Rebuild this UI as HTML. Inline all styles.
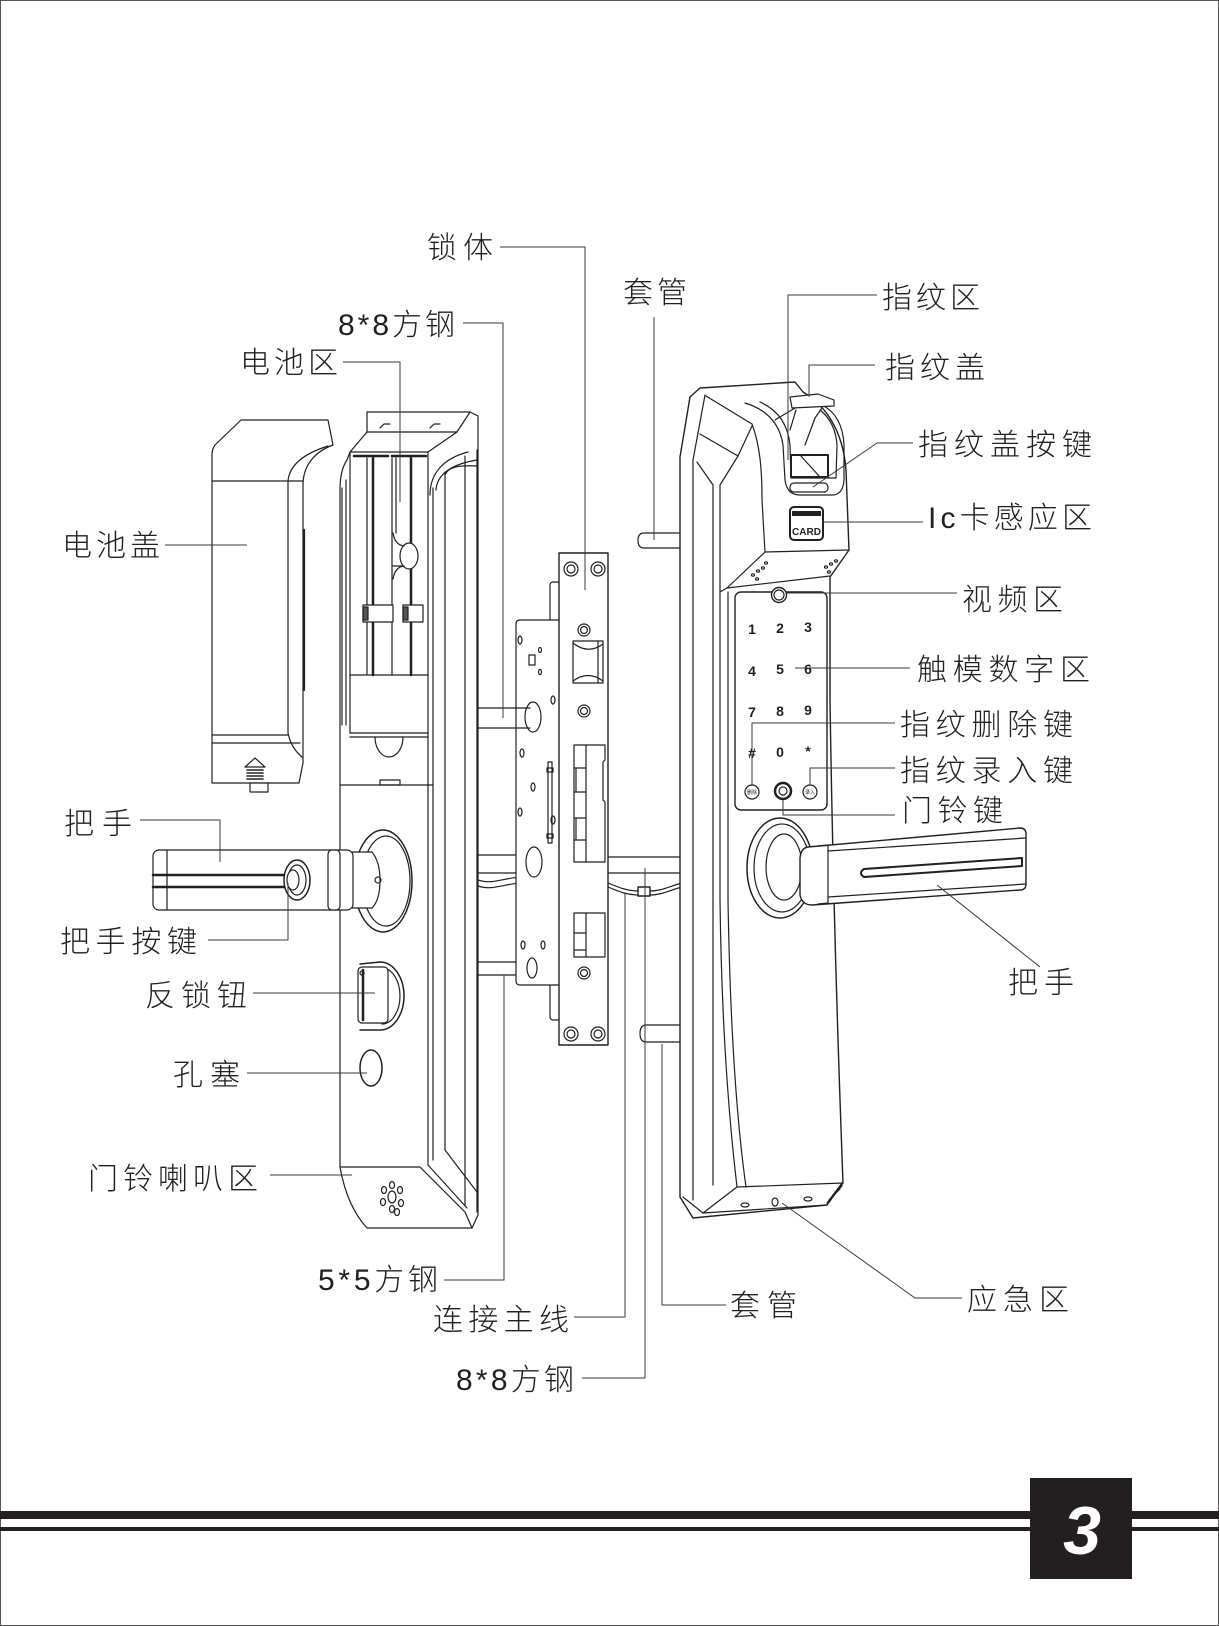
<!DOCTYPE html>
<html><head><meta charset="utf-8">
<style>
html,body{margin:0;padding:0;background:#fff;}
svg{display:block;}
text{font-family:"Liberation Sans","Noto Sans CJK SC",sans-serif;fill:#231f20;}
.lbl text{font-weight:300;}
</style></head><body>
<svg width="1219" height="1626" viewBox="0 0 1219 1626" xmlns="http://www.w3.org/2000/svg">
<rect x="0.5" y="0.5" width="1218" height="1625" fill="#fff" stroke="#555" stroke-width="1"/>

<g fill="none" stroke="#231f20" stroke-width="1.2" stroke-linejoin="round" stroke-linecap="round">

<!-- ===== Battery cover ===== -->
<path d="M215,445 L241,420 L328,420 L333,445 C314,452 303,466 303,485 L303,763 L299,783 L212,783 L212,455 Q212,449 215,445 Z" fill="#fff"/>
<line x1="212" y1="481" x2="303" y2="481"/>
<path d="M288,481 Q290,458 328,446"/>
<path d="M288,481 L288,733 Q291,748 302,757"/>
<line x1="212" y1="735" x2="288" y2="735"/>
<line x1="212" y1="743" x2="300" y2="743"/>
<line x1="304" y1="530" x2="304" y2="690" stroke-width="2.2"/>
<path d="M245,767 L255,758 L265,767 Z"/>
<path d="M247,770 H263 M247,773 H263 M247,776 H263 M247,779 H263" stroke-width="1.6"/>
<rect x="250" y="783" width="18" height="9" fill="#fff"/>

<!-- ===== Rear lock body ===== -->
<path d="M340,1167 L340,490 Q340,470 347,460 L350,452 L367,432 L367,412 L470,412 L478,416 L478,1215 L472,1228 L367,1228 C355,1215 345,1195 340,1167 Z" fill="#fff"/>
<path d="M350,452 L428,452 L457,432 L367,432"/>
<path d="M457,432 L470,412"/>
<path d="M380,428 L384,424 L390,424 M430,428 L434,424 L440,424"/>
<line x1="350" y1="452" x2="350" y2="733"/>
<line x1="346" y1="480" x2="346" y2="725"/>
<line x1="342" y1="488" x2="342" y2="725"/>
<line x1="428" y1="452" x2="428" y2="785"/>
<line x1="350" y1="675" x2="428" y2="675"/>
<path d="M354,456 H388 M392,456 H426" stroke-width="2.5"/>
<line x1="367" y1="458" x2="367" y2="675"/>
<line x1="373" y1="458" x2="373" y2="675" stroke-width="2.5"/>
<line x1="392" y1="458" x2="392" y2="675"/>
<line x1="396" y1="458" x2="396" y2="533"/>
<line x1="411" y1="458" x2="411" y2="675" stroke-width="2.5"/>
<ellipse cx="409" cy="556" rx="9" ry="13" fill="#fff"/>
<path d="M393,533 Q395,545 404,546 M393,579 Q395,567 404,566 M393,566 H402"/>
<rect x="363" y="605" width="30" height="17" fill="#fff"/>
<rect x="363" y="607" width="5" height="13" fill="#555"/>
<rect x="403" y="605" width="20" height="17" fill="#fff"/>
<rect x="403" y="607" width="5" height="13" fill="#555"/>
<line x1="350" y1="733" x2="428" y2="733"/>
<line x1="350" y1="737" x2="428" y2="737"/>
<path d="M375,737 A14,20 0 0 0 403,737"/>
<line x1="340" y1="785" x2="433" y2="785"/>
<rect x="380" y="780" width="20" height="5"/>
<line x1="433" y1="488" x2="433" y2="1160"/>
<line x1="428" y1="785" x2="428" y2="1165"/>
<line x1="445" y1="472" x2="445" y2="1150"/>
<line x1="465" y1="456" x2="465" y2="1205"/>
<line x1="477" y1="450" x2="477" y2="1212"/>
<path d="M430,495 C430,472 445,458 468,452"/>
<path d="M436,490 C437,474 452,464 477,460"/>
<path d="M445,475 C448,467 458,465 477,466"/>
<path d="M340,1167 L420,1167 L465,1212 L472,1228"/>
<path d="M428,1165 L467,1208"/>
<path d="M445,1150 L477,1192"/>
<!-- left handle -->
<ellipse cx="383" cy="881" rx="29" ry="51" fill="#fff" stroke-width="1.5"/>
<ellipse cx="386" cy="881" rx="24" ry="45"/>
<path d="M337,852 L372,852 Q380,862 380,880 Q380,900 372,908 L337,908 Z" fill="#fff"/>
<circle cx="378" cy="880" r="3"/>
<rect x="153" y="850" width="200" height="60" rx="6" fill="#fff"/>
<line x1="167" y1="850" x2="167" y2="910"/>
<rect x="328" y="850" width="12" height="60" rx="4" fill="#fff"/>
<line x1="153" y1="875" x2="285" y2="875" stroke-width="2.5"/>
<line x1="153" y1="887" x2="285" y2="887" stroke-width="2.5"/>
<ellipse cx="297" cy="880" rx="13" ry="20" fill="#fff" stroke-width="1.5"/>
<ellipse cx="297" cy="880" rx="9" ry="15"/>
<ellipse cx="293" cy="880" rx="6" ry="10" fill="#fff"/>
<!-- thumb turn -->
<path d="M360,964 L380,962 A24,34 0 0 1 380,1030 L360,1030" fill="#fff" stroke-width="1.5"/>
<path d="M382,968 A18,28 0 0 1 382,1024"/>
<rect x="358" y="967" width="30" height="56" rx="4" fill="#fff"/>
<line x1="363" y1="970" x2="363" y2="1020" stroke-width="2.5"/>
<circle cx="362" cy="973" r="2"/>
<!-- plug -->
<ellipse cx="371" cy="1068" rx="11" ry="18" stroke-width="1.5"/>
<!-- speaker -->
<ellipse cx="392" cy="1197" rx="4" ry="6"/>
<ellipse cx="384" cy="1190" rx="2.5" ry="3.5"/>
<ellipse cx="392" cy="1185" rx="2.5" ry="3.5"/>
<ellipse cx="400" cy="1190" rx="2.5" ry="3.5"/>
<ellipse cx="383" cy="1202" rx="2.5" ry="3.5"/>
<ellipse cx="401" cy="1203" rx="2.5" ry="3.5"/>
<ellipse cx="392" cy="1209" rx="2.5" ry="3.5"/>
<ellipse cx="397" cy="1212" rx="2.5" ry="3.5"/>

<!-- ===== Rods left ===== -->
<path d="M478,855 L532,855 M478,873 L532,873"/>
<path d="M478,962 L530,962 M478,975 L530,975"/>
<path d="M478,880 C495,886 510,874 530,878 M478,886 C495,892 510,880 530,884"/>

<!-- ===== Mortise ===== -->
<rect x="550" y="582" width="10" height="40" rx="3" fill="#fff"/>
<rect x="550" y="980" width="10" height="40" rx="3" fill="#fff"/>
<path d="M559,620 L520,620 Q516,620 516,624 L516,981 Q516,985 520,985 L559,985" fill="#fff"/>
<ellipse cx="533" cy="717" rx="8" ry="15" fill="#fff"/>
<path d="M478,708 L530,708 M478,728 L530,728"/>
<ellipse cx="534" cy="862" rx="8" ry="15" fill="#fff"/>
<ellipse cx="532" cy="968" rx="5" ry="10" fill="#fff"/>
<ellipse cx="520" cy="640" rx="2" ry="4"/>
<ellipse cx="540" cy="650" rx="1.5" ry="2.5"/>
<ellipse cx="540" cy="672" rx="1.5" ry="2.5"/>
<rect x="529" y="655" width="6" height="10"/>
<ellipse cx="553" cy="700" rx="2" ry="4"/>
<ellipse cx="522" cy="753" rx="2" ry="4"/>
<ellipse cx="533" cy="787" rx="2" ry="4"/>
<ellipse cx="520" cy="812" rx="2" ry="4"/>
<ellipse cx="553" cy="820" rx="2" ry="4"/>
<ellipse cx="523" cy="945" rx="2" ry="4"/>
<ellipse cx="543" cy="945" rx="2" ry="4"/>
<rect x="548" y="762" width="4" height="81"/>
<rect x="547" y="768" width="6" height="4"/>
<rect x="547" y="834" width="6" height="4"/>
<rect x="559" y="553" width="49" height="492" fill="#fff" stroke-width="1.4"/>
<circle cx="571" cy="569" r="7"/><circle cx="571" cy="569" r="4"/>
<circle cx="598" cy="569" r="7"/><circle cx="598" cy="569" r="4"/>
<circle cx="571" cy="1034" r="7"/><circle cx="571" cy="1034" r="4"/>
<circle cx="598" cy="1034" r="7"/><circle cx="598" cy="1034" r="4"/>
<circle cx="584" cy="630" r="6"/><circle cx="584" cy="630" r="3.5"/>
<circle cx="584" cy="711" r="6"/><circle cx="584" cy="711" r="3.5"/>
<circle cx="584" cy="973" r="6"/><circle cx="584" cy="973" r="3.5"/>
<path d="M573,641 L603,641 L603,683 L573,683 Z"/>
<path d="M573,643 Q588,655 603,644 M573,681 Q588,670 603,681"/>
<line x1="598" y1="641" x2="598" y2="683"/>
<path d="M574,745 L605,745 L605,760 L603,762 L603,800 L605,802 L605,862 L574,862 Z"/>
<line x1="586" y1="745" x2="586" y2="862"/>
<path d="M574,768 H586 M574,792 H586 M574,818 H586 M574,840 H586"/>
<path d="M576,768 V792 M576,818 V840"/>
<path d="M574,913 L605,913 L605,957 L574,957 Z"/>
<line x1="586" y1="913" x2="586" y2="957"/>
<path d="M574,933 H586 M574,950 H586"/>

<!-- ===== Right side tubes ===== -->
<path d="M682,533 L644,533 Q638,533 638,540.5 Q638,548 644,548 L682,548" fill="#fff"/>
<path d="M682,1025 L646,1025 Q640,1025 640,1033.5 Q640,1042 646,1042 L682,1042" fill="#fff"/>
<line x1="608" y1="857" x2="682" y2="857"/>
<line x1="608" y1="873" x2="682" y2="873"/>
<path d="M608,883 C620,888 628,891 638,891 M608,887 C620,892 628,895 638,895"/>
<rect x="638" y="887" width="12" height="9" fill="#fff" stroke-width="1.4"/>
<path d="M650,891 C662,891 670,886 682,883 M650,895 C662,895 670,890 682,887"/>

<!-- ===== Front panel (right) ===== -->
<path d="M680,1197 L680,457 L690,397 L700,388 L795,382 L803,392 C825,405 843,430 846,470 L849,550 L830,577 L830,700 C833,900 838,1050 843,1183 L827,1205 L693,1218 Z" fill="#fff" stroke-width="1.4"/>
<path d="M693,1200 L693,460 L705,395"/>
<path d="M713,1185 L713,485 L697,462"/>
<path d="M728,592 L728,900 Q731,1080 746,1187"/>
<path d="M720,485 L720,900 Q722,1060 737,1187"/>
<path d="M706,396 L752,424"/>
<path d="M700,434 L738,456 L752,426"/>
<path d="M720,485 L738,456"/>
<path d="M752,424 C760,445 762,470 762,500 L765,552"/>
<path d="M727,588 L765,552 L849,550"/>
<path d="M727,588 L830,576"/>
<path d="M720,592 L727,588"/>
<!-- bottom -->
<path d="M737,1187 L843,1183"/>
<path d="M683,1197 L703,1213 L827,1205"/>
<path d="M703,1213 L737,1187"/>
<path d="M842,1183 L827,1203"/>
<path d="M833,1195 L842,1186 M829,1200 L840,1189"/>
<ellipse cx="745" cy="1205" rx="4" ry="2"/>
<ellipse cx="775" cy="1202" rx="3" ry="4"/>
<ellipse cx="808" cy="1199" rx="4" ry="2"/>
<!-- fingerprint head -->
<path d="M745,403 C768,410 780,425 783,445 L785,480 Q787,495 800,495 L832,495 Q843,495 844,480 L844,445 C843,425 836,412 822,405"/>
<path d="M760,402 C778,410 788,425 790,445 L791,478 L836,478 L837,445 C836,430 830,418 820,410"/>
<rect x="791" y="455" width="37" height="22" stroke-width="2"/>
<line x1="800" y1="455" x2="820" y2="477"/>
<rect x="790" y="483" width="38" height="9" rx="4" fill="#fff"/>
<path d="M775,420 L795,408 M805,445 L815,418 L822,408 M796,410 L790,430"/>
<polygon points="790,397 818,394 834,400 834,406 792,408" fill="#fff"/>
<!-- CARD -->
<rect x="790" y="507" width="33" height="33" rx="4" stroke-width="2"/>
<!-- dots -->
<ellipse cx="753" cy="575" rx="1.5" ry="1.2"/><ellipse cx="758" cy="571" rx="1.5" ry="1.2"/>
<ellipse cx="763" cy="568" rx="1.5" ry="1.2"/><ellipse cx="766" cy="563" rx="1.5" ry="1.2"/>
<ellipse cx="757" cy="579" rx="1.5" ry="1.2"/>
<ellipse cx="826" cy="567" rx="1.5" ry="1.2"/><ellipse cx="831" cy="564" rx="1.5" ry="1.2"/>
<ellipse cx="836" cy="561" rx="1.5" ry="1.2"/><ellipse cx="829" cy="572" rx="1.5" ry="1.2"/>
<!-- keypad -->
<rect x="735" y="592" width="92" height="218" rx="6" fill="#fff" stroke-width="1.4"/>
<circle cx="779" cy="595" r="7.5" fill="#fff" stroke-width="1.4"/>
<circle cx="779" cy="595" r="5"/>
<circle cx="752" cy="792" r="7"/>
<circle cx="783" cy="791" r="8" stroke-width="2.5"/>
<circle cx="783" cy="791" r="4"/>
<circle cx="810" cy="792" r="7"/>
<!-- right handle -->
<ellipse cx="780" cy="868" rx="33" ry="50" fill="#fff" stroke-width="1.5"/>
<ellipse cx="782" cy="868" rx="28" ry="44"/>
<ellipse cx="784" cy="867" rx="18" ry="33" fill="#fff"/>
<path d="M808,847 L1020,828 Q1026,828 1026,834 L1026,884 Q1026,890 1020,890 L812,905 Q802,905 800,895 L800,858 Q801,848 808,847 Z" fill="#fff" stroke-width="1.4"/>
<path d="M818,846 L828,845 L828,903 L818,904"/>
<path d="M828,851 L1026,838"/>
<path d="M828,897 L1026,884"/>
<path d="M864,869 L1022,858 L1022,866 L864,877 Q858,873 864,869 Z" stroke-width="2"/>
</g>

<!-- digits / icon text -->
<g font-size="14" font-weight="bold" text-anchor="middle">
<text x="752" y="634">1</text><text x="780" y="633">2</text><text x="808" y="632">3</text>
<text x="752" y="676">4</text><text x="780" y="674">5</text><text x="808" y="674">6</text>
<text x="752" y="717">7</text><text x="780" y="716">8</text><text x="808" y="715">9</text>
<text x="752" y="758">#</text><text x="780" y="757">0</text><text x="808" y="756">*</text>
</g>
<text x="752" y="794" font-size="5" text-anchor="middle">删除</text>
<text x="810" y="794" font-size="5" text-anchor="middle">录入</text>
<rect x="792" y="511" width="29" height="5" fill="#231f20"/>
<text x="806.5" y="535" font-size="10" font-weight="bold" text-anchor="middle">CARD</text>

<!-- ===== Leaders ===== -->
<g fill="none" stroke="#3a3a3a" stroke-width="1">
<path d="M500,247 H585 V590"/>
<path d="M463,323 H503 V718"/>
<path d="M343,362 H400 V502"/>
<path d="M165,545 H247"/>
<path d="M654,317 V540"/>
<path d="M877,295 H788 V460"/>
<path d="M875,365 H809 V397"/>
<path d="M913,443 H877 L813,487"/>
<path d="M822,522 H923"/>
<path d="M787,593 H957"/>
<path d="M795,668 H910"/>
<path d="M895,723 H752 V785"/>
<path d="M895,768 H810 V785"/>
<path d="M895,815 H783 V800"/>
<path d="M937,885 L1040,967"/>
<path d="M782,1203 L915,1298 H962"/>
<path d="M726,1305 H662 V1044"/>
<path d="M582,1378 H645 V868"/>
<path d="M574,1317 H625 V893"/>
<path d="M444,1280 H504 V975"/>
<path d="M270,1175 H352"/>
<path d="M247,1073 H367"/>
<path d="M253,993 H375"/>
<path d="M208,940 H288 V883"/>
<path d="M140,820 H220 V862"/>
</g>

<!-- ===== Labels ===== -->
<g class="lbl" font-size="30">
<text x="427" y="258" textLength="66" lengthAdjust="spacing">锁体</text>
<text x="338" y="335" textLength="117" lengthAdjust="spacing">8*8方钢</text>
<text x="240" y="373" textLength="98" lengthAdjust="spacing">电池区</text>
<text x="62" y="556" textLength="98" lengthAdjust="spacing">电池盖</text>
<text x="623" y="303" textLength="64" lengthAdjust="spacing">套管</text>
<text x="882" y="308" textLength="98" lengthAdjust="spacing">指纹区</text>
<text x="885" y="378" textLength="100" lengthAdjust="spacing">指纹盖</text>
<text x="918" y="455" textLength="174" lengthAdjust="spacing">指纹盖按键</text>
<text x="928" y="528" textLength="164" lengthAdjust="spacing">Ic卡感应区</text>
<text x="962" y="610" textLength="101" lengthAdjust="spacing">视频区</text>
<text x="917" y="680" textLength="173" lengthAdjust="spacing">触模数字区</text>
<text x="900" y="735" textLength="173" lengthAdjust="spacing">指纹删除键</text>
<text x="900" y="781" textLength="173" lengthAdjust="spacing">指纹录入键</text>
<text x="902" y="821" textLength="101" lengthAdjust="spacing">门铃键</text>
<text x="1008" y="993" textLength="66" lengthAdjust="spacing">把手</text>
<text x="967" y="1310" textLength="102" lengthAdjust="spacing">应急区</text>
<text x="730" y="1316" textLength="67" lengthAdjust="spacing">套管</text>
<text x="456" y="1390" textLength="118" lengthAdjust="spacing">8*8方钢</text>
<text x="433" y="1330" textLength="136" lengthAdjust="spacing">连接主线</text>
<text x="318" y="1290" textLength="120" lengthAdjust="spacing">5*5方钢</text>
<text x="88" y="1189" textLength="170" lengthAdjust="spacing">门铃喇叭区</text>
<text x="173" y="1085" textLength="67" lengthAdjust="spacing">孔塞</text>
<text x="145" y="1006" textLength="102" lengthAdjust="spacing">反锁钮</text>
<text x="60" y="952" textLength="137" lengthAdjust="spacing">把手按键</text>
<text x="64" y="834" textLength="68" lengthAdjust="spacing">把手</text>
</g>

<!-- ===== Footer ===== -->
<rect x="0" y="1511" width="1219" height="8" fill="#231f20"/>
<rect x="0" y="1527" width="1219" height="4" fill="#231f20"/>
<rect x="1030" y="1478" width="102" height="101" fill="#231f20"/>
<text x="1082" y="1554" font-size="68" font-weight="bold" font-style="italic" text-anchor="middle" style="fill:#fff">3</text>
</svg>
</body></html>
